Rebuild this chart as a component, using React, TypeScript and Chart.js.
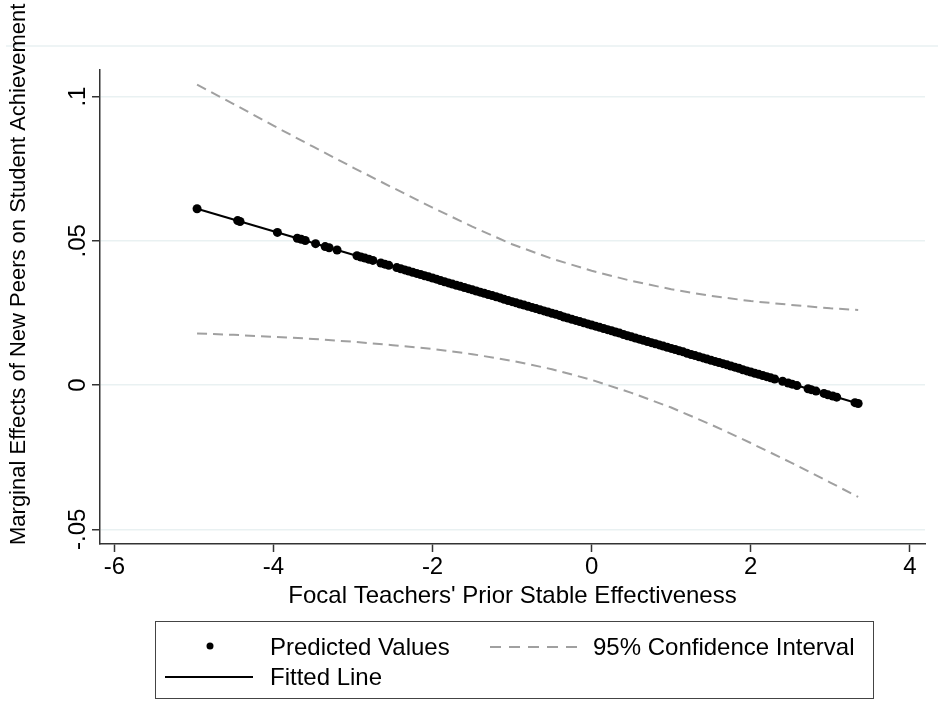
import React, { useEffect, useRef } from "react";
import { Chart, registerables } from "chart.js";

Chart.register(...registerables);

// ---------- data ----------
const predictedX = [
  -4.96, -4.45, -4.42, -3.95, -3.7, -3.65, -3.6, -3.47, -3.35, -3.3, -3.2,
  -2.95, -2.9, -2.85, -2.8, -2.75, -2.65, -2.6, -2.55, -2.45, -2.4, -2.35,
  -2.3, -2.25, -2.2, -2.15, -2.1, -2.05, -2.0, -1.95, -1.9, -1.85, -1.8, -1.75,
  -1.7, -1.65, -1.6, -1.55, -1.5, -1.45, -1.4, -1.35, -1.3, -1.25, -1.2, -1.15,
  -1.1, -1.05, -1.0, -0.95, -0.9, -0.85, -0.8, -0.75, -0.7, -0.65, -0.6, -0.55,
  -0.5, -0.45, -0.4, -0.35, -0.3, -0.25, -0.2, -0.15, -0.1, -0.05, 0.0,
  0.05, 0.1, 0.15, 0.2, 0.25, 0.3, 0.35, 0.4, 0.45, 0.5, 0.55, 0.6, 0.65,
  0.7, 0.75, 0.8, 0.85, 0.9, 0.95, 1.0, 1.05, 1.1, 1.15, 1.2, 1.25, 1.3, 1.35,
  1.4, 1.45, 1.5, 1.55, 1.6, 1.65, 1.7, 1.75, 1.8, 1.85, 1.9, 1.95, 2.0, 2.05,
  2.1, 2.15, 2.2, 2.25, 2.3,
  2.4, 2.47, 2.52, 2.58, 2.72, 2.76, 2.82, 2.92, 2.97, 3.03, 3.08, 3.31, 3.35,
];
const predictedY = [
  0.0611, 0.057, 0.0567, 0.0529, 0.0509, 0.0505, 0.0501, 0.049, 0.048, 0.0476, 0.0468,
  0.0448, 0.0444, 0.044, 0.0436, 0.0432, 0.0423, 0.0419, 0.0415, 0.0407, 0.0403, 0.0399,
  0.0395, 0.0391, 0.0387, 0.0383, 0.0379, 0.0375, 0.0371, 0.0367, 0.0362, 0.0358, 0.0354, 0.035,
  0.0346, 0.0342, 0.0338, 0.0334, 0.033, 0.0326, 0.0322, 0.0318, 0.0314, 0.031, 0.0306, 0.0302,
  0.0297, 0.0293, 0.0289, 0.0285, 0.0281, 0.0277, 0.0273, 0.0269, 0.0265, 0.0261, 0.0257, 0.0253,
  0.0249, 0.0245, 0.0241, 0.0236, 0.0232, 0.0228, 0.0224, 0.022, 0.0216, 0.0212, 0.0208,
  0.0204, 0.02, 0.0196, 0.0192, 0.0188, 0.0184, 0.018, 0.0175, 0.0171, 0.0167, 0.0163, 0.0159, 0.0155,
  0.0151, 0.0147, 0.0143, 0.0139, 0.0135, 0.0131, 0.0127, 0.0123, 0.0119, 0.0115, 0.011, 0.0106, 0.0102, 0.0098,
  0.0094, 0.009, 0.0086, 0.0082, 0.0078, 0.0074, 0.007, 0.0066, 0.0062, 0.0058, 0.0053, 0.0049, 0.0045, 0.0041,
  0.0037, 0.0033, 0.0029, 0.0025, 0.0021,
  0.0013, 0.0007, 0.0003, -0.0002, -0.0013, -0.0016, -0.0021, -0.0029, -0.0034, -0.0038, -0.0042, -0.0061, -0.0064,
];
const fittedX = [-4.96, 3.35];
const fittedY = [0.0611, -0.0064];
const ciX = [-4.96, -4.5, -4, -3.5, -3, -2.5, -2, -1.5, -1, -0.5, 0, 0.5, 1, 1.5, 2, 2.5, 3, 3.35];
const ciUpper = [0.1041, 0.0974, 0.0899, 0.0826, 0.0754, 0.0684, 0.0615, 0.0549, 0.0488, 0.0438, 0.0396, 0.0361, 0.0332, 0.0309, 0.0291, 0.0278, 0.0266, 0.026];
const ciLower = [0.0179, 0.0174, 0.0167, 0.016, 0.015, 0.0138, 0.0125, 0.0107, 0.0084, 0.0055, 0.0018, -0.0027, -0.0078, -0.0137, -0.0201, -0.0268, -0.0338, -0.0388];

const xTicks = [-6, -4, -2, 0, 2, 4];
const xTickLabels = ["-6", "-4", "-2", "0", "2", "4"];
const yTicks = [-0.05, 0, 0.05, 0.1];
const yTickLabels = ["-.05", "0", ".05", ".1"];

const xTitle = "Focal Teachers' Prior Stable Effectiveness";
const yTitle = "Marginal Effects of New Peers on Student Achievement";
const legendPredicted = "Predicted Values";
const legendCI = "95% Confidence Interval";
const legendFitted = "Fitted Line";

const FONT = '"Liberation Sans", Arial, Helvetica, sans-serif';
const AXIS = "#333333";
const GRID = "#e9f1f2";
const CI_COLOR = "#a0a0a0";

const toXY = (xs: number[], ys: number[]) => xs.map((x, i) => ({ x, y: ys[i] }));

const decor = {
  id: "decor",
  beforeDraw(chart: any) {
    const ctx = chart.ctx;
    ctx.save();
    ctx.fillStyle = "#ffffff";
    ctx.fillRect(0, 0, chart.width, chart.height);
    ctx.strokeStyle = GRID;
    ctx.lineWidth = 1.5;
    ctx.beginPath();
    ctx.moveTo(6, 46);
    ctx.lineTo(chart.width, 46);
    ctx.stroke();
    ctx.restore();
  },
  afterDraw(chart: any) {
    const ctx = chart.ctx;
    const ys = chart.scales.y;
    ctx.save();
    ctx.fillStyle = "#000";
    // y tick labels (rotated)
    ctx.font = `24px ${FONT}`;
    ctx.textAlign = "center";
    ctx.textBaseline = "alphabetic";
    yTicks.forEach((v, i) => {
      const py = ys.getPixelForValue(v);
      ctx.save();
      ctx.translate(85, py);
      ctx.rotate(-Math.PI / 2);
      ctx.fillText(yTickLabels[i], 0, 0);
      ctx.restore();
    });
    // y title
    ctx.save();
    ctx.font = `22px ${FONT}`;
    ctx.textAlign = "left";
    ctx.translate(25, 545);
    ctx.rotate(-Math.PI / 2);
    ctx.fillText(yTitle, 0, 0);
    ctx.restore();

    // legend
    ctx.strokeStyle = "#444";
    ctx.lineWidth = 1;
    ctx.strokeRect(155.5, 621.5, 718, 77);
    ctx.font = `24px ${FONT}`;
    ctx.textAlign = "left";
    ctx.textBaseline = "middle";
    // row 1
    ctx.beginPath();
    ctx.arc(210, 646, 3.5, 0, Math.PI * 2);
    ctx.fill();
    ctx.fillText(legendPredicted, 270, 648);
    ctx.strokeStyle = CI_COLOR;
    ctx.lineWidth = 2;
    ctx.setLineDash([11, 8]);
    ctx.beginPath();
    ctx.moveTo(490, 647);
    ctx.lineTo(577, 647);
    ctx.stroke();
    ctx.setLineDash([]);
    ctx.fillText(legendCI, 593, 648);
    // row 2
    ctx.strokeStyle = "#000";
    ctx.lineWidth = 2;
    ctx.beginPath();
    ctx.moveTo(165, 677);
    ctx.lineTo(253, 677);
    ctx.stroke();
    ctx.fillText(legendFitted, 270, 678);
    ctx.restore();
  },
};

export default function App() {
  const ref = useRef<HTMLCanvasElement | null>(null);
  useEffect(() => {
    if (!ref.current) return;
    const chart = new Chart(ref.current, {
      type: "scatter",
      data: {
        datasets: [
          {
            type: "line",
            label: "CI upper",
            data: toXY(ciX, ciUpper),
            borderColor: CI_COLOR,
            borderWidth: 2,
            borderDash: [10, 6],
            pointRadius: 0,
            fill: false,
            tension: 0,
          },
          {
            type: "line",
            label: "CI lower",
            data: toXY(ciX, ciLower),
            borderColor: CI_COLOR,
            borderWidth: 2,
            borderDash: [10, 6],
            pointRadius: 0,
            fill: false,
            tension: 0,
          },
          {
            type: "line",
            label: legendFitted,
            data: toXY(fittedX, fittedY),
            borderColor: "#000",
            borderWidth: 2,
            pointRadius: 0,
            fill: false,
          },
          {
            type: "scatter",
            label: legendPredicted,
            data: toXY(predictedX, predictedY),
            backgroundColor: "#000",
            borderColor: "#000",
            borderWidth: 0,
            pointRadius: 4.5,
          },
        ],
      } as any,
      options: {
        responsive: false,
        animation: false,
        devicePixelRatio: 1,
        layout: { padding: { left: 0, top: 70, right: 13, bottom: 117 } },
        plugins: { legend: { display: false }, tooltip: { enabled: false } },
        scales: {
          x: {
            type: "linear",
            position: "bottom",
            min: -6.18,
            max: 4.19,
            afterBuildTicks: (s: any) => {
              s.ticks = xTicks.map((v) => ({ value: v }));
            },
            afterFit: (s: any) => {
              s.height = 67;
            },
            ticks: {
              color: "#000",
              font: { family: FONT, size: 24 },
              padding: 1,
              maxRotation: 0,
              minRotation: 0,
              callback: (v: any) => {
                const i = xTicks.indexOf(Number(v));
                return i >= 0 ? xTickLabels[i] : "";
              },
            },
            grid: {
              drawOnChartArea: false,
              drawTicks: true,
              tickLength: 8,
              tickColor: AXIS,
              tickWidth: 1.5,
            },
            border: { display: true, color: AXIS, width: 1.5 },
            title: {
              display: true,
              text: xTitle,
              color: "#000",
              font: { family: FONT, size: 24 },
              padding: { top: 0, bottom: 0 },
            },
          },
          y: {
            type: "linear",
            position: "left",
            min: -0.0551,
            max: 0.1092,
            afterBuildTicks: (s: any) => {
              s.ticks = yTicks.map((v) => ({ value: v }));
            },
            afterFit: (s: any) => {
              s.width = 100;
            },
            ticks: { display: false },
            grid: {
              color: GRID,
              lineWidth: 1.5,
              drawTicks: true,
              tickLength: 8,
              tickColor: AXIS,
              tickWidth: 1.5,
            },
            border: { display: true, color: AXIS, width: 1.5 },
          },
        },
      } as any,
      plugins: [decor],
    });
    return () => chart.destroy();
  }, []);

  return (
    <div style={{ position: "fixed", left: 0, top: 0, width: 938, height: 728, background: "#fff" }}>
      <canvas ref={ref} width={938} height={728} style={{ display: "block" }} />
    </div>
  );
}
